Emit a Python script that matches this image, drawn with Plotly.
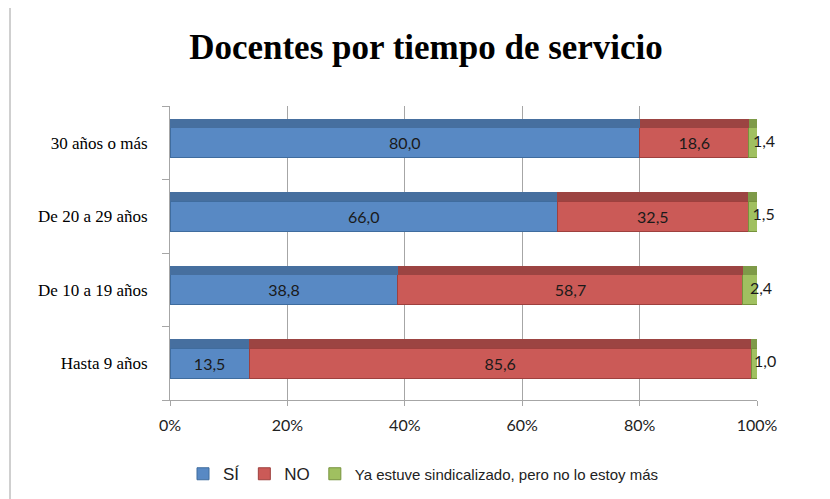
import plotly.graph_objects as go

categories = ["Hasta 9 años", "De 10 a 19 años", "De 20 a 29 años", "30 años o más"]
si_vals = [13.5, 38.8, 66.0, 80.0]
no_vals = [85.6, 58.7, 32.5, 18.6]
ya_vals = [1.0, 2.4, 1.5, 1.4]
x_ticks = [0, 20, 40, 60, 80, 100]
x_tick_labels = ["0%", "20%", "40%", "60%", "80%", "100%"]
series_names = ["<span style='font-size:17px'>SÍ</span>",
                "<span style='font-size:17px'>NO</span>",
                "Ya estuve sindicalizado, pero no lo estoy más"]

def fmt(v):
    return f"{v:.1f}".replace(".", ",")

# (name, values, front colour, edge colour, top-face colour, show text inside)
series = [
    (series_names[0], si_vals, "#5889C4", "#3F6C9E", "#466F9F", True),
    (series_names[1], no_vals, "#CB5A57", "#9E403E", "#9C4442", True),
    (series_names[2], ya_vals, "#A0C060", "#76923C", "#7E9A48", False),
]

BAR_W = 0.41
TOP_W = 0.12
LABEL_FONT = dict(family="Lato, DejaVu Sans, sans-serif", size=16, color="#1a1a1a")

fig = go.Figure()
# top faces (pseudo 3D) on an overlaid axis so they stack independently
for name, vals, col, edge, top, inside in series:
    fig.add_trace(go.Bar(
        y=categories, x=vals, orientation="h", showlegend=False, hoverinfo="skip",
        marker=dict(color=top, line=dict(color=top, width=0)),
        width=TOP_W, offset=BAR_W / 2, yaxis="y2",
    ))
for name, vals, col, edge, top, inside in series:
    fig.add_trace(go.Bar(
        y=categories, x=vals, name=name, orientation="h",
        marker=dict(color=col, line=dict(color=edge, width=1)),
        text=[fmt(v) for v in vals] if inside else None,
        textposition="inside" if inside else "none", textangle=0,
        insidetextanchor="middle",
        textfont=LABEL_FONT,
        width=BAR_W,
    ))

# labels of the thin last segment (they overflow the segment, as in the original)
totals = [s + n + y for s, n, y in zip(si_vals, no_vals, ya_vals)]
ya_pos = [(s + n + y / 2) / t * 100 for s, n, y, t in zip(si_vals, no_vals, ya_vals, totals)]
fig.add_trace(go.Scatter(
    y=categories, x=ya_pos, mode="text", text=[fmt(v) for v in ya_vals],
    textposition="middle right", textfont=LABEL_FONT, showlegend=False,
    hoverinfo="skip", cliponaxis=False,
))

W, H = 830, 499
OFF = 8  # page body margin offset
L, R, T, B = 170 - OFF, 73 + OFF, 106 - OFF, 99 + OFF
pw = W - L - R
ph = H - T - B

fig.update_layout(
    width=W, height=H,
    margin=dict(l=L, r=R, t=T, b=B, autoexpand=False),
    barmode="stack", barnorm="percent",
    paper_bgcolor="white", plot_bgcolor="white",
    uniformtext=dict(minsize=16, mode="show"),
    title=dict(text="<b>Docentes por tiempo de servicio</b>",
               font=dict(family="Liberation Serif, Times New Roman, serif", size=35, color="black"),
               x=(426 - OFF) / W, xanchor="center", y=1 - (47 - OFF) / H, yanchor="middle"),
    xaxis=dict(range=[0, 100], tickvals=x_ticks, ticktext=x_tick_labels,
               showgrid=True, gridcolor="#A6A6A6", gridwidth=1,
               showline=True, linecolor="#A6A6A6", ticks="outside", ticklen=5, tickcolor="#A6A6A6",
               ticklabelstandoff=6, automargin=False,
               tickfont=dict(family="Lato, DejaVu Sans, sans-serif", size=16, color="#222"),
               zeroline=False, fixedrange=True),
    yaxis=dict(showline=True, linecolor="#A6A6A6", ticks="outside", tickson="boundaries",
               ticklen=7, tickcolor="#A6A6A6", ticklabelstandoff=18, automargin=False,
               tickfont=dict(family="Liberation Serif, Times New Roman, serif", size=17, color="black"),
               categoryorder="array", categoryarray=categories, fixedrange=True),
    yaxis2=dict(overlaying="y", matches="y", showticklabels=False, showgrid=False,
                showline=False, ticks="", categoryorder="array", categoryarray=categories,
                fixedrange=True),
    legend=dict(orientation="h", x=(183 - OFF - L) / pw, xanchor="left",
                y=-((474 - OFF) - (H - B)) / ph, yanchor="middle", itemwidth=30,
                font=dict(family="Liberation Sans, Arial, sans-serif", size=15, color="#222"),
                traceorder="normal"),
    showlegend=True,
    shapes=[dict(type="line", xref="paper", yref="paper",
                 x0=(10 - OFF - L) / pw, x1=(10 - OFF - L) / pw, y0=-B / ph, y1=1 + T / ph,
                 line=dict(color="#A0A0A0", width=1))],
)

fig.write_html("out.html")
